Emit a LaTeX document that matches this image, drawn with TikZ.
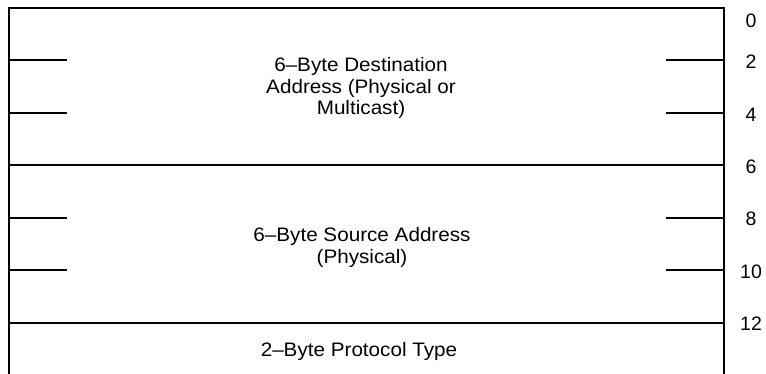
\documentclass[tikz,border=0pt]{standalone}
\usepackage{fontspec}
\setmainfont{Liberation Sans}[FakeStretch=1.06]
\newfontfamily\labelfont{Liberation Sans}
\begin{document}
\begin{tikzpicture}[x=1pt,y=-1pt,
  rule/.style={line width=1.8pt, line cap=rect},
  fieldtext/.style={align=center, font=\fontsize{19.5}{21.7}\selectfont, inner sep=0pt},
  offs/.style={font=\labelfont\fontsize{19.5}{22}\selectfont, inner sep=0pt}]
\useasboundingbox (0,0) rectangle (766,373);
% frame
\coordinate (tl) at (9,8);
\coordinate (tr) at (724,8);
\coordinate (bl) at (9,374);
\coordinate (br) at (724,374);
\draw[rule] (bl) -- (tl) -- (tr) -- (br);
% full separators
\draw[rule] (9,165) -- (724,165);
\draw[rule] (9,323) -- (724,323);
% ticks
\foreach \yy in {60,113,218,270}{
  \draw[rule,line cap=butt] (9,\yy) -- (67,\yy);
  \draw[rule,line cap=butt] (666,\yy) -- (724,\yy);
}
% field texts
\node[fieldtext] (dst) at (361,88) {6–Byte Destination\\Address (Physical or\\Multicast)};
\node[fieldtext] (src) at (362,247.5) {6–Byte Source Address\\(Physical)};
\node[fieldtext] (typ) at (359,351) {2–Byte Protocol Type};
% offsets
\node[offs] (o0) at (751,21) {0};
\node[offs] (o2) at (751,62) {2};
\node[offs] (o4) at (751,114.5) {4};
\node[offs] (o6) at (751,167) {6};
\node[offs] (o8) at (751,219) {8};
\node[offs] (o10) at (751,271.5) {10};
\node[offs] (o12) at (751,324) {12};
\end{tikzpicture}
\end{document}
